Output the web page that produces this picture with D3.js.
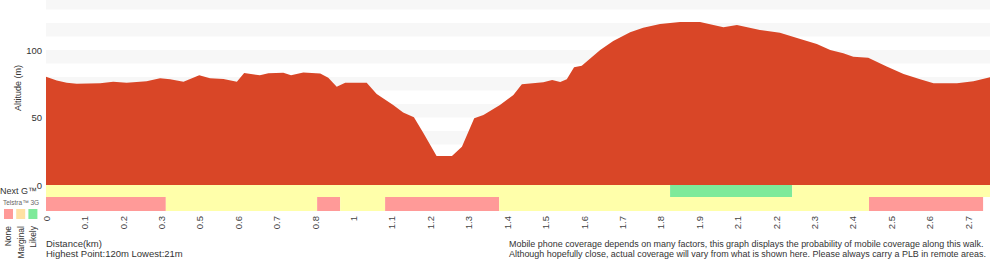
<!DOCTYPE html>
<html>
<head>
<meta charset="utf-8">
<script src="https://cdn.jsdelivr.net/npm/d3@7"></script>
<style>
  body { margin: 0; background: #fff; }
  svg text { font-family: "Liberation Sans", Arial, sans-serif; }
</style>
</head>
<body>
<div id="chart"></div>
<script>
// distance along the walk, in tick steps (one step per x label)
var dist = [0, 0.28, 0.54, 0.80, 1.41, 1.75, 2.10, 2.62, 2.97, 3.23, 3.58, 3.99, 4.27, 4.62, 4.97,
    5.16, 5.57, 5.79, 6.18, 6.38, 6.70, 7.14, 7.35, 7.57, 7.79, 8.35, 8.61, 9.04, 9.30, 9.58,
    9.83, 10.17, 10.57, 10.83, 11.15, 11.39, 11.82, 12.17, 12.39, 12.95, 13.18, 13.39, 13.56,
    13.75, 13.95, 14.43, 14.77, 15.21, 15.55, 15.99, 16.51, 17.03, 17.29, 17.64, 17.99, 18.59,
    19.11, 19.64, 20.07, 20.42, 20.76, 21.02, 21.41, 21.89, 22.33, 22.76, 23.11, 23.72, 24.15, 24.58];
// altitude (m)
var altitude = [80.2, 77.3, 75.8, 75, 75.3, 76.5, 75.8, 76.8, 79, 78.3, 76.5, 81.2, 79, 78.5, 76.5,
    83, 81.2, 82.7, 83.2, 81.2, 83.4, 82.5, 79.5, 72.8, 75.8, 75.8, 67.4, 59.3, 53.6, 50.1,
    38.3, 21.5, 21.5, 28.4, 49.4, 51.9, 59.3, 66.7, 74.6, 76, 77.8, 76.3, 78.3,
    87.2, 88.4, 100, 106.7, 113.1, 116.5, 119.3, 120.7, 120.7, 119, 116.8, 118.5, 114.8,
    112.8, 108.1, 104.4, 100, 97.5, 95, 94.3, 87.7, 82.2, 78.3, 75.3, 75.3, 76.8, 79.8];

var xLabels = ["0", "0.1", "0.2", "0.3", "0.5", "0.6", "0.7", "0.8", "1", "1.1", "1.2", "1.3", "1.4",
    "1.5", "1.6", "1.7", "1.8", "1.9", "2.1", "2.2", "2.3", "2.4", "2.5", "2.6", "2.7"];
var yTicks = [0, 50, 100];

// coverage segments [start, end, level] in tick steps
var nextG = [[0, 16.25, "Marginal"], [16.25, 19.43, "Likely"], [19.43, 24.58, "Marginal"]];
var telstra3G = [[0, 3.12, "None"], [3.12, 7.06, "Marginal"], [7.06, 7.66, "None"], [7.66, 8.83, "Marginal"],
    [8.83, 11.80, "None"], [11.80, 21.43, "Marginal"], [21.43, 24.40, "None"]];
var levels = ["None", "Marginal", "Likely"];

var width = 1000, height = 260;
var left = 46, right = 990, bottom = 185;

var svg = d3.select("#chart").append("svg")
    .attr("width", width)
    .attr("height", height);

var x = d3.scaleLinear().domain([0, 24.58]).range([left, right]);
var y = d3.scaleLinear().domain([0, 137]).range([bottom, 0]);

var rowColor = d3.scaleOrdinal().domain(levels).range(["#ff9a98", "#ffffaa", "#7eea9a"]);
var legendColor = d3.scaleOrdinal().domain(levels).range(["#ff9a98", "#ffe1a3", "#7eea9a"]);

// light grey stripes every 10 m
svg.append("g")
    .selectAll("rect")
    .data([10, 30, 50, 70, 90, 110, 130])
    .enter().append("rect")
    .attr("x", left)
    .attr("width", right - left)
    .attr("y", d => y(d + 10))
    .attr("height", d => y(d) - y(d + 10))
    .attr("fill", "#f7f7f7");

// altitude area
svg.append("path")
    .datum(dist.map((d, i) => ({ d: d, a: altitude[i] })))
    .attr("fill", "#d94627")
    .attr("d", d3.area()
        .x(d => x(d.d))
        .y0(y(0))
        .y1(d => y(d.a)));

// y axis
var yAxis = svg.append("g")
    .attr("transform", "translate(" + left + ",0)")
    .call(d3.axisLeft(y).tickValues(yTicks).tickSize(0).tickPadding(4));
yAxis.select(".domain").remove();
yAxis.selectAll("text")
    .style("font-size", "9.5px")
    .attr("fill", "#333")
    .style("font-family", "Liberation Sans, Arial, sans-serif");

svg.append("text")
    .attr("transform", "translate(21," + 88 + ") rotate(-90)")
    .style("text-anchor", "middle")
    .style("font-size", "9px")
    .attr("fill", "#333")
    .text("Altitude (m)");

// coverage rows
var rowTop = 185, rowMid = 197, rowBot = 211;
svg.append("g").selectAll("rect")
    .data(nextG)
    .enter().append("rect")
    .attr("x", d => x(d[0]))
    .attr("width", d => x(d[1]) - x(d[0]))
    .attr("y", rowTop)
    .attr("height", rowMid - rowTop)
    .attr("fill", d => rowColor(d[2]));
svg.append("g").selectAll("rect")
    .data(telstra3G)
    .enter().append("rect")
    .attr("x", d => x(d[0]))
    .attr("width", d => x(d[1]) - x(d[0]))
    .attr("y", rowMid)
    .attr("height", rowBot - rowMid)
    .attr("fill", d => rowColor(d[2]));

// x axis with rotated labels
var xAxis = svg.append("g")
    .attr("transform", "translate(0," + rowBot + ")")
    .call(d3.axisBottom(x).tickValues(d3.range(xLabels.length))
        .tickFormat(i => xLabels[i]).tickSize(0).tickPadding(0));
xAxis.select(".domain").remove();
xAxis.selectAll("text")
    .attr("transform", "rotate(-90)")
    .attr("x", -5)
    .attr("y", 0)
    .attr("dy", "0.35em")
    .style("text-anchor", "end")
    .style("font-size", "9.5px")
    .attr("fill", "#444")
    .style("font-family", "Liberation Sans, Arial, sans-serif");

// row labels and legend
svg.append("text")
    .attr("x", 0).attr("y", 194)
    .style("font-size", "9px")
    .attr("fill", "#333")
    .text("Next G™");
svg.append("text")
    .attr("x", 3).attr("y", 205)
    .style("font-size", "6.5px")
    .attr("fill", "#666")
    .text("Telstra™ 3G");

var legend = svg.append("g");
legend.selectAll("rect")
    .data(levels)
    .enter().append("rect")
    .attr("x", (d, i) => 4 + i * 12.2)
    .attr("y", 209)
    .attr("width", 9)
    .attr("height", 10)
    .attr("fill", d => legendColor(d));
legend.selectAll("text")
    .data(levels)
    .enter().append("text")
    .attr("transform", (d, i) => "translate(" + (8.5 + i * 12.2) + ",226) rotate(-90)")
    .attr("dy", "0.35em")
    .style("text-anchor", "end")
    .style("font-size", "8.5px")
    .attr("fill", "#333")
    .text(d => d);

// footer texts
svg.append("text")
    .attr("x", left).attr("y", 247)
    .style("font-size", "9.5px")
    .attr("fill", "#333")
    .text("Distance(km)");
svg.append("text")
    .attr("x", left).attr("y", 257)
    .style("font-size", "9.5px")
    .attr("fill", "#333")
    .text("Highest Point:120m Lowest:21m");

var notes = ["Mobile phone coverage depends on many factors, this graph displays the probability of mobile coverage along this walk.",
    "Although hopefully close, actual coverage will vary from what is shown here. Please always carry a PLB in remote areas."];
var noteText = svg.append("g").selectAll("text")
    .data(notes)
    .enter().append("text")
    .attr("x", 509)
    .attr("y", (d, i) => 247 + i * 10)
    .style("font-size", "10px")
    .attr("fill", "#333")
    .text(d => d);
// shrink the notes so the longer line ends near the plot's right edge
var noteWidth = d3.max(noteText.nodes(), n => n.getComputedTextLength());
noteText.style("font-size", (10 * 478 / noteWidth) + "px");
</script>
</body>
</html>
